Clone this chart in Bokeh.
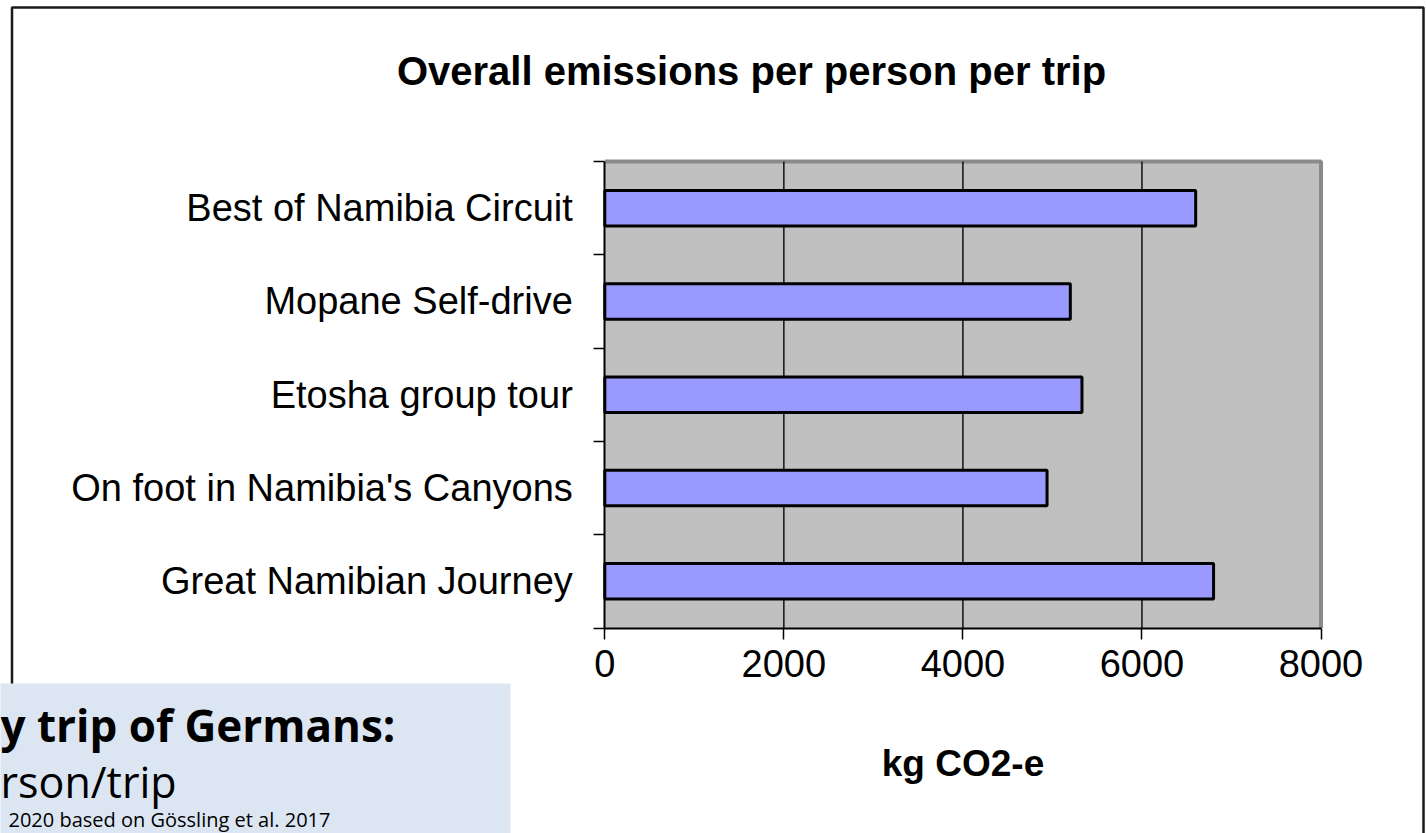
from bokeh.plotting import figure
from bokeh.models import Range1d, LinearAxis, FixedTicker
from bokeh.core.properties import value
from bokeh.embed import file_html
from bokeh.resources import INLINE

# ---- data -------------------------------------------------------------
# trips listed bottom to top, as the axis draws them
categories = [
    "Great Namibian Journey",
    "On foot in Namibia's Canyons",
    "Etosha group tour",
    "Mopane Self-drive",
    "Best of Namibia Circuit",
]
emissions = [6800, 4940, 5330, 5200, 6600]   # kg CO2-e per person per trip
x_ticks = [0, 2000, 4000, 6000, 8000]
grid_values = [2000, 4000, 6000]

title_text = "Overall emissions per person per trip"
x_label = "kg CO2-e"
note_lines = ["y trip of Germans:", "rson/trip", "2020 based on Gössling et al. 2017"]

# ---- page geometry (pixels) -------------------------------------------
W, H = 1426, 833
PX0, PX1 = 604.3, 1320.5        # screen x of 0 and 8000
PY_TOP, PY_BOT = 161.0, 627.5   # screen y of the plot area's top and bottom

xmin, xmax = 0, 8000
n = len(categories)
y_lo, y_hi = -0.5, n - 0.5

kx = (PX1 - PX0) / (xmax - xmin)
ky = (PY_BOT - PY_TOP) / (y_hi - y_lo)
x_range = Range1d(xmin - PX0 / kx, xmin + (W - PX0) / kx)
y_range = Range1d(y_lo - (H - PY_BOT) / ky, y_hi + PY_TOP / ky)

p = figure(width=W, height=H, x_range=x_range, y_range=y_range,
           x_axis_type=None, y_axis_type=None, title=None,
           min_border=0, toolbar_location=None, output_backend="svg")
p.outline_line_color = None
p.background_fill_color = "white"
p.border_fill_color = "white"
p.extra_x_ranges = {"px": Range1d(0, W)}
p.extra_y_ranges = {"px": Range1d(H, 0)}
px = dict(x_range_name="px", y_range_name="px")

# frame around the whole chart
p.quad(left=[11.5], right=[1423], top=[7], bottom=[900],
       fill_color=None, line_color="#1a1a1a", line_width=2.5, **px)

# grey plot area with its darker top/right edge
p.quad(left=[xmin], right=[xmax], bottom=[y_lo], top=[y_hi],
       fill_color="#C0C0C0", line_color=None)
p.line(x=[xmin, xmax, xmax], y=[y_hi, y_hi, y_lo],
       line_color="#8A8A8A", line_width=4)

# vertical gridlines
p.segment(x0=grid_values, y0=[y_lo] * len(grid_values),
          x1=grid_values, y1=[y_hi] * len(grid_values),
          line_color="#111111", line_width=1.5)

# bars
p.hbar(y=list(range(n)), left=0, right=emissions, height=0.38,
       fill_color="#9999FF", line_color="#000000", line_width=3)

# x axis along the bottom of the plot area
xaxis = LinearAxis(
    fixed_location=y_lo, bounds=(xmin, xmax),
    ticker=FixedTicker(ticks=x_ticks, minor_ticks=[]),
    axis_line_color="#000000", axis_line_width=2,
    major_tick_out=11, major_tick_in=0,
    major_tick_line_color="#000000", major_tick_line_width=1.5,
    minor_tick_out=0, minor_tick_in=0,
    major_label_text_font="Liberation Sans",
    major_label_text_font_size="38px",
    major_label_text_color="#000000",
    major_label_standoff=11,
    axis_label=x_label,
    axis_label_text_font="Liberation Sans",
    axis_label_text_font_style="bold",
    axis_label_text_font_size="37px",
    axis_label_text_color="#000000",
    axis_label_standoff=62,
)
p.add_layout(xaxis, "below")

# category axis along the left edge, ticks between the bars
yaxis = LinearAxis(
    fixed_location=xmin, bounds=(y_lo, y_hi),
    ticker=FixedTicker(ticks=list(range(n)),
                       minor_ticks=[y_lo + i for i in range(n + 1)]),
    axis_line_color="#000000", axis_line_width=2,
    major_tick_out=0, major_tick_in=0,
    minor_tick_out=11, minor_tick_in=0,
    minor_tick_line_color="#000000", minor_tick_line_width=1.5,
    major_label_overrides={i: c for i, c in enumerate(categories)},
    major_label_text_font="Liberation Sans",
    major_label_text_font_size="38px",
    major_label_text_color="#000000",
    major_label_standoff=21,
)
p.add_layout(yaxis, "left")

# chart title
p.text(x=[751], y=[70], text=[title_text],
       text_font=value("Liberation Sans"), text_font_style="bold",
       text_font_size="40px", text_align="center",
       text_baseline="alphabetic", text_color="#000000", **px)

# note box in the lower left corner
p.quad(left=[-2], right=[510], top=[683], bottom=[860],
       fill_color="#DCE6F2", line_color=None, **px)
p.text(x=[0], y=[724], text=[note_lines[0]],
       text_font=value("Open Sans"), text_font_style="bold",
       text_font_size="44px", text_baseline="alphabetic",
       text_color="#000000", **px)
p.text(x=[0], y=[781], text=[note_lines[1]],
       text_font=value("Open Sans"), text_font_size="43px",
       text_baseline="alphabetic", text_color="#000000", **px)
p.text(x=[8], y=[819], text=[note_lines[2]],
       text_font=value("Open Sans"), text_font_size="20px",
       text_baseline="alphabetic", text_color="#000000", **px)

open("out.html", "w").write(file_html(p, INLINE))
